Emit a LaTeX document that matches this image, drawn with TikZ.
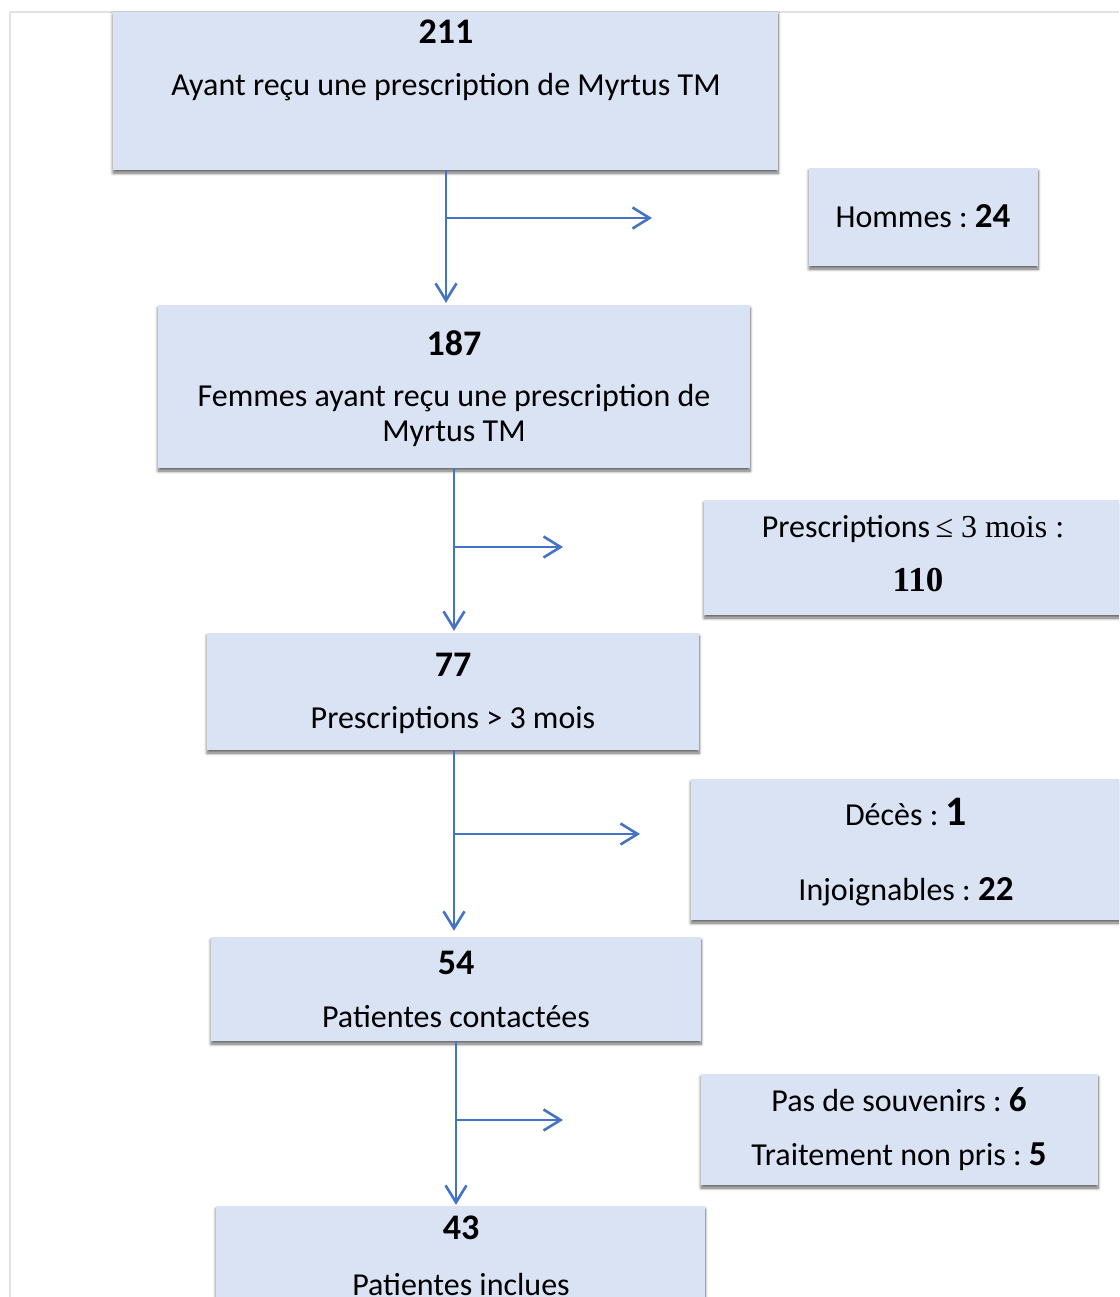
\documentclass[tikz,border=0pt]{standalone}
\usepackage{fontspec}
\setmainfont{Carlito}
\newfontfamily\tnr{Liberation Serif}
\usetikzlibrary{arrows.meta,shadows.blur}
\frenchspacing
\definecolor{boxfill}{HTML}{DAE3F3}
\definecolor{arrowblue}{HTML}{4472C4}
\definecolor{framegray}{HTML}{E2E2E2}
\newcommand{\bnum}[1]{{\fontsize{35}{38}\selectfont\bfseries #1}}
\tikzset{
  box/.style={rectangle, fill=boxfill, draw=none, inner sep=0pt,
    blur shadow={shadow xshift=0pt, shadow yshift=-3pt, shadow blur radius=3pt, shadow blur steps=8, shadow opacity=60}},
  txt/.style={inner sep=0pt, anchor=center, align=center, font=\fontsize{32}{36}\selectfont},
  num/.style={inner sep=0pt, anchor=center, font=\fontsize{36}{40}\selectfont\bfseries},
  arr/.style={draw=arrowblue, line width=2.6pt, -{Straight Barb[length=17pt,width=21pt,line width=2.6pt]}}
}
\begin{document}
\begin{tikzpicture}[x=1pt,y=-1pt]
\useasboundingbox (0,0) rectangle (1119,1297);
\clip (0,0) rectangle (1119,1297);
\draw[framegray, line width=1.2pt] (10,1297) -- (10,12) -- (1119,12);

% main boxes
\node[box, minimum width=665pt, minimum height=158pt] (b1) at (445.5,91) {};
\node[box, minimum width=592pt, minimum height=163pt] (b2) at (454,386.5) {};
\node[box, minimum width=492pt, minimum height=117pt] (b3) at (453,691.5) {};
\node[box, minimum width=490pt, minimum height=104pt] (b4) at (456,989) {};
\node[box, minimum width=489pt, minimum height=134pt] (b5) at (460.5,1273) {};
% side boxes
\node[box, minimum width=229pt, minimum height=98pt] (h1) at (923.5,217) {};
\node[box, minimum width=421pt, minimum height=115pt] (h2) at (914.5,557.5) {};
\node[box, minimum width=434pt, minimum height=141pt] (h3) at (908,849.5) {};
\node[box, minimum width=397pt, minimum height=111pt] (h4) at (899.5,1129.5) {};

% texts
\node[num] (t1n) at (446,32) {211};
\node[txt] (t1) at (446,87) {Ayant reçu une prescription de Myrtus TM};
\node[txt] (th1) at (923,216) {Hommes : \bnum{24}};
\node[num] (t2n) at (454,343) {187};
\node[txt] (t2) at (454,415) {Femmes ayant reçu une prescription de\\[-1pt]Myrtus TM};
\node[txt] (th2) at (913,529) {Prescriptions\,{\tnr ≤ 3 mois :}};
\node[inner sep=0pt, font=\fontsize{35}{40}\selectfont\tnr\bfseries] (th2n) at (918,580) {110};
\node[num] (t3n) at (453,665) {77};
\node[txt] (t3) at (453,720) {Prescriptions > 3 mois};
\node[txt] (th3a) at (906,812) {Décès : {\fontsize{42}{44}\selectfont\bfseries 1}};
\node[txt] (th3b) at (906,892) {Injoignables : \bnum{22}};
\node[num] (t4n) at (456,963) {54};
\node[txt] (t4) at (456,1017) {Patientes contactées};
\node[txt] (th4a) at (899,1100) {Pas de souvenirs : \bnum{6}};
\node[txt] (th4b) at (899,1157) {Traitement non pris : \bnum{5}};
\node[num] (t5n) at (461,1228) {43};
\node[txt] (t5) at (461,1284) {Patientes inclues};

% connector coordinates
\coordinate (v1) at (446,0);
\coordinate (v2) at (454,0);
\coordinate (v3) at (454,0);
\coordinate (v4) at (456,0);
\coordinate (j1) at (446,218);
\coordinate (e1) at (652,218);
\coordinate (j2) at (454,547);
\coordinate (e2) at (563,547);
\coordinate (j3) at (454,834);
\coordinate (e3) at (640,834);
\coordinate (j4) at (456,1120);
\coordinate (e4) at (563,1120);

% connectors
\draw[arr] (b1.south -| v1) -- ([yshift=2pt]b2.north -| v1);
\draw[arr] (j1) -- (e1);
\draw[arr] (b2.south -| v2) -- ([yshift=2pt]b3.north -| v2);
\draw[arr] (j2) -- (e2);
\draw[arr] (b3.south -| v3) -- ([yshift=6pt]b4.north -| v3);
\draw[arr] (j3) -- (e3);
\draw[arr] (b4.south -| v4) -- ([yshift=1pt]b5.north -| v4);
\draw[arr] (j4) -- (e4);
\end{tikzpicture}
\end{document}
